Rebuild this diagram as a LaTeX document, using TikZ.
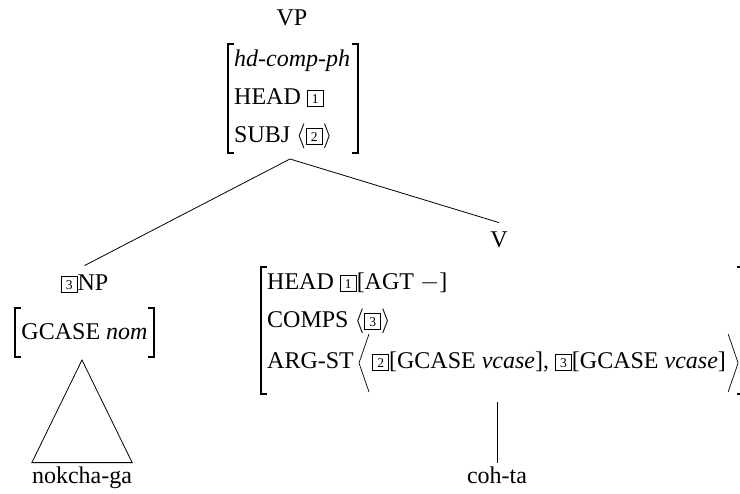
\documentclass[tikz,border=0pt]{standalone}
\usepackage{fontspec}
\setmainfont{Liberation Serif}
\newcommand\tg[1]{{\setlength\fboxsep{0pt}\setlength\fboxrule{0.7pt}\raisebox{-1.5pt}{\framebox{\makebox[15.5pt]{\rule{0pt}{16pt}\raisebox{3pt}{\fontsize{13.5}{13.5}\selectfont #1}}}}}}
\tikzset{
  every node/.style={font=\fontsize{24}{28}\selectfont, inner sep=0pt},
  catlabel/.style={anchor=base, inner xsep=0pt, inner ysep=9.5pt},
  avmrow/.style={anchor=base west},
  leaf/.style={anchor=base, inner xsep=0pt, inner ysep=4.5pt},
  bracket/.style={line width=1.1pt},
  branch/.style={line width=0.8pt},
  angle/.style={line width=0.7pt},
}
\begin{document}
\begin{tikzpicture}[x=1pt,y=-1pt]
\path[use as bounding box] (0,0) rectangle (740,494);
\clip (0,0) rectangle (740,494);
% VP
\node[catlabel] (vp) at (292,26) {VP};
\node[avmrow] (vpr1) at (234,67) {\textit{hd-comp-ph}};
\node[avmrow] (vpr2) at (234,105) {HEAD \tg{1}};
\node[avmrow] (vpr3) at (234,143) {SUBJ $\langle$\tg{2}$\rangle$};
\draw[bracket] (234,44) -| (228,153) -- (234,153);
\draw[bracket] (352,44) -| (358,153) -- (352,153);
\coordinate (vpfoot) at (290,159);
% NP
\node[catlabel] (np) at (84.5,291) {\tg{3}NP};
\node[anchor=base] (npr1) at (84.5,340) {GCASE \textit{nom}};
\draw[bracket] (21,308) -| (15,357) -- (21,357);
\draw[bracket] (148,308) -| (154,357) -- (148,357);
\coordinate (npfoot) at (82,360);
\node[leaf] (nokcha) at (82,484) {nokcha-ga};
\draw[branch] (npfoot) -- (nokcha.north west) -- (nokcha.north east) -- cycle;
% V
\node[catlabel] (v) at (499,248) {V};
\node[avmrow] (vr1) at (267,290) {HEAD \tg{1}[AGT $-$]};
\node[avmrow] (vr2) at (267,328) {COMPS $\langle$\tg{3}$\rangle$};
\node[avmrow] (vr3) at (267,369) {ARG-ST};
\node[avmrow] (vr3list) at (372,369) {\tg{2}[GCASE \textit{vcase}], \tg{3}[GCASE \textit{vcase}]};
\draw[angle] (369,334) -- (359,363) -- (369,392);
\draw[angle] ([xshift=2pt]vr3list.base east |- 0,334) -- ([xshift=12pt]vr3list.base east |- 0,363) -- ([xshift=2pt]vr3list.base east |- 0,392);
\draw[bracket] (267,267) -| (261,394) -- (267,394);
\draw[bracket] (737,267) -| (743,394) -- (737,394);
\coordinate (vfoot) at (497,402);
\node[leaf] (cohta) at (497,484) {coh-ta};
% branches
\draw[branch] (vpfoot) -- (np.north);
\draw[branch] (vpfoot) -- (v.north);
\draw[branch] (vfoot) -- (cohta.north);
\end{tikzpicture}
\end{document}
